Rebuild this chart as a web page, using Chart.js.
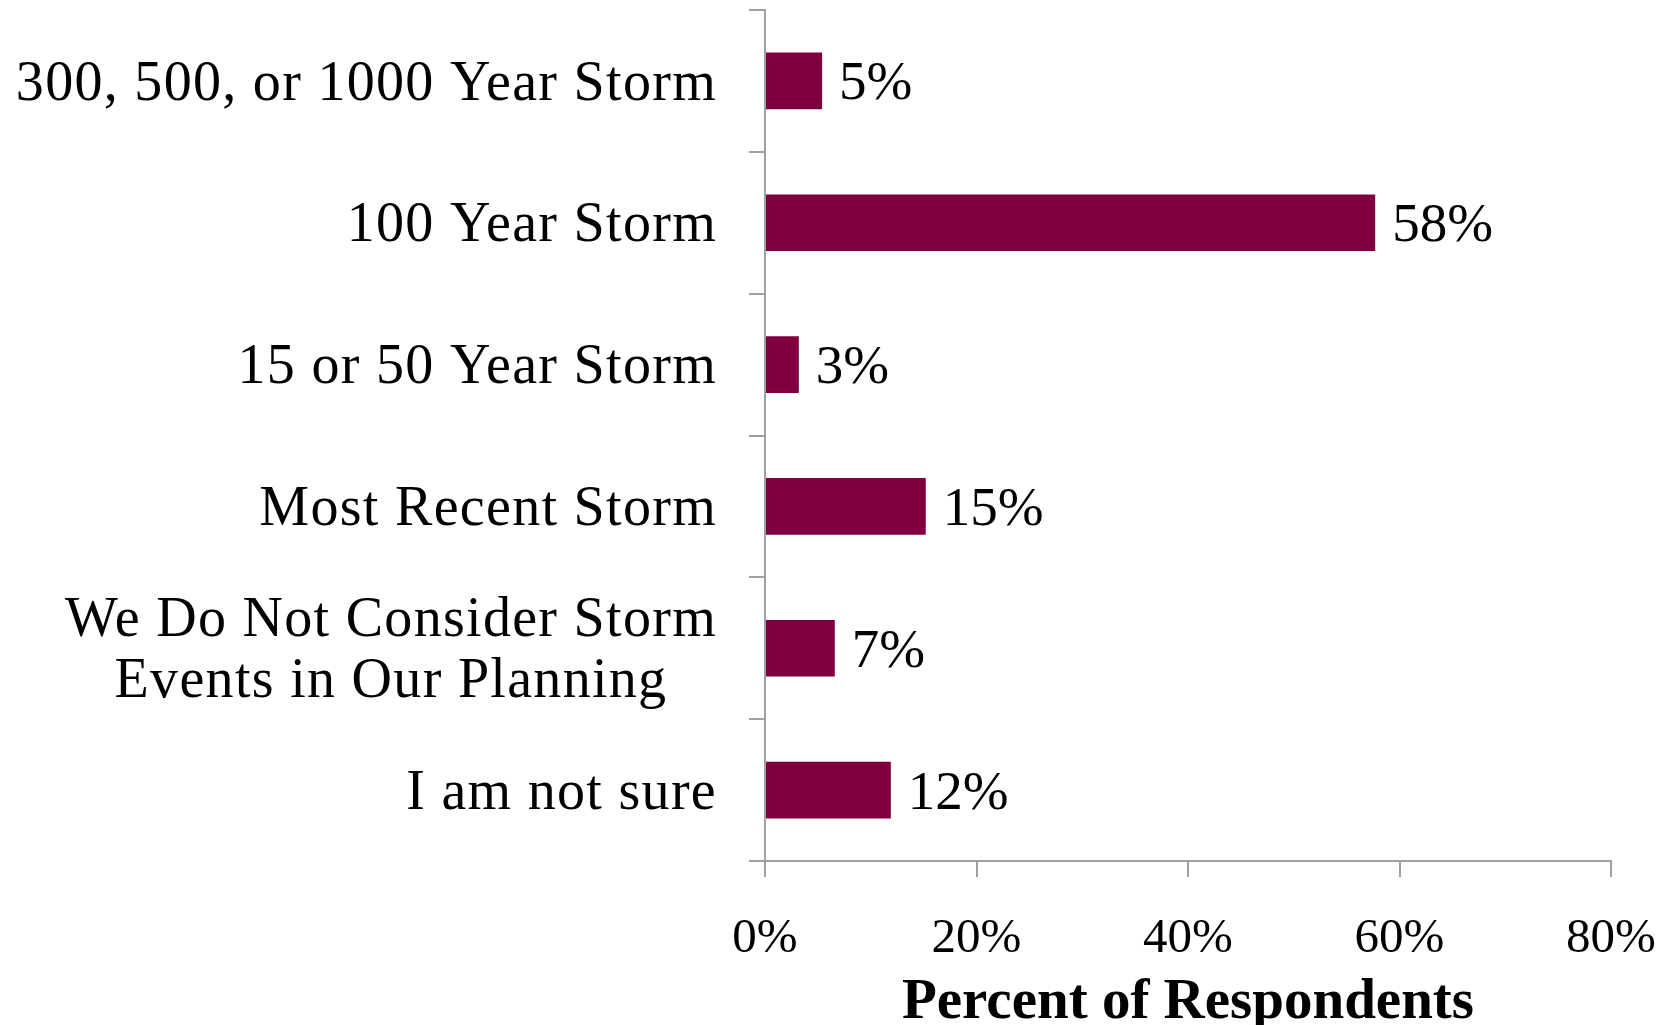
<!DOCTYPE html>
<html>
<head>
<meta charset="utf-8">
<script src="https://cdn.jsdelivr.net/npm/chart.js@4"></script>
<style>
  html, body { margin: 0; padding: 0; background: #fff; }
  #wrap { width: 1678px; height: 1025px; }
</style>
</head>
<body>
<div id="wrap"><canvas id="bieuDo"></canvas></div>
<script>
// categories + values
const categories = [
    "300, 500, or 1000 Year Storm",
    "100 Year Storm",
    "15 or 50 Year Storm",
    "Most Recent Storm",
    ["We Do Not Consider Storm", "Events in Our Planning"],
    "I am not sure",
];
const percentValues = [5.4, 57.7, 3.2, 15.2, 6.6, 11.9];
const xTicks = [0, 20, 40, 60, 80];

const FONT = "'Liberation Serif', 'DejaVu Serif', serif";
const barColor = "#80003f";
const axisColor = "#a0a0a0";

// ve nhan danh muc ben trai (can giua tung dong, can phai ca khoi)
const categoryLabels = {
    id: "categoryLabels",
    afterDraw(chart) {
        const ctx = chart.ctx;
        const y = chart.scales.y;
        const rightEdge = y.right - 48;
        ctx.save();
        ctx.font = "56px " + FONT;
        ctx.letterSpacing = "1.3px";
        ctx.fillStyle = "#000";
        ctx.textBaseline = "middle";
        ctx.textAlign = "center";
        categories.forEach((lab, i) => {
            const lines = Array.isArray(lab) ? lab : [lab];
            const w = Math.max(...lines.map((l) => ctx.measureText(l).width));
            const cx = rightEdge - w / 2;
            const yc = y.getPixelForValue(i) + 4;
            const lh = 61;
            lines.forEach((l, k) => {
                ctx.fillText(l, cx, yc + (k - (lines.length - 1) / 2) * lh);
            });
        });
        ctx.restore();
    },
};

// nhan gia tri sau moi thanh
const valueLabels = {
    id: "valueLabels",
    afterDatasetsDraw(chart) {
        const ctx = chart.ctx;
        const meta = chart.getDatasetMeta(0);
        ctx.save();
        ctx.font = "55px " + FONT;
        ctx.fillStyle = "#000";
        ctx.textBaseline = "middle";
        ctx.textAlign = "left";
        meta.data.forEach((bar, i) => {
            ctx.fillText(Math.round(percentValues[i]) + "%", bar.x + 17, bar.y + 4);
        });
        ctx.restore();
    },
};

new Chart(document.getElementById("bieuDo").getContext("2d"), {
    type: "bar",
    data: {
        labels: categories,
        datasets: [
            {
                data: percentValues,
                backgroundColor: barColor,
                barPercentage: 0.4,
                categoryPercentage: 1.0,
            },
        ],
    },
    options: {
        indexAxis: "y",
        responsive: true,
        maintainAspectRatio: false,
        animation: false,
        layout: { padding: { top: 10, right: 67, left: 0, bottom: 0 } },
        plugins: { legend: { display: false }, tooltip: { enabled: false } },
        scales: {
            x: {
                min: 0,
                max: 80,
                afterBuildTicks: (scale) => {
                    scale.ticks = xTicks.map((v) => ({ value: v }));
                },
                afterFit: (scale) => {
                    scale.height = 164;
                    scale.paddingLeft = 0;
                    scale.paddingRight = 0;
                },
                ticks: {
                    font: { family: FONT, size: 49 },
                    color: "#000",
                    padding: 33,
                    maxRotation: 0,
                    callback: (v) => v + "%",
                },
                grid: {
                    drawOnChartArea: false,
                    tickLength: 16,
                    color: axisColor,
                    lineWidth: 2,
                },
                border: { color: axisColor, width: 2 },
                title: {
                    display: true,
                    text: "Percent of Respondents",
                    font: { family: FONT, size: 57, weight: "bold", lineHeight: 0.75 },
                    color: "#000",
                    padding: { top: 0, bottom: 0 },
                },
            },
            y: {
                afterFit: (scale) => {
                    scale.width = 765;
                },
                ticks: { display: false },
                grid: {
                    drawOnChartArea: false,
                    tickLength: 16,
                    color: axisColor,
                    lineWidth: 2,
                    offset: true,
                },
                border: { color: axisColor, width: 2 },
            },
        },
    },
    plugins: [categoryLabels, valueLabels],
});
</script>
</body>
</html>
